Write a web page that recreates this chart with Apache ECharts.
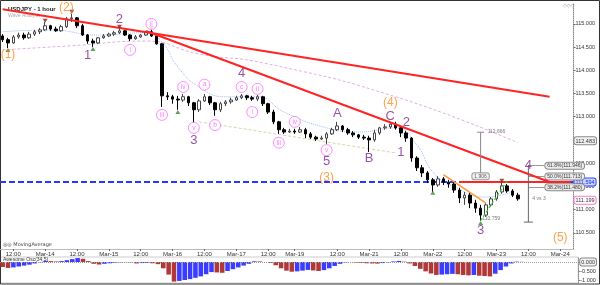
<!DOCTYPE html>
<html>
<head>
<meta charset="utf-8">
<script src="https://cdn.jsdelivr.net/npm/echarts@6/dist/echarts.min.js"></script>
<style>
html,body{margin:0;padding:0;background:#fff;}
#chart{width:600px;height:285px;}
</style>
</head>
<body>
<div id="chart"></div>
<script>
// 2-hour slots, slot 0 = Mar-13 morning, weekend gap removed
const slotCount = 108;
const tickIdx = [2, 8, 14, 20, 26, 32, 38, 44, 50, 55, 63, 69, 75, 81, 87, 93, 99, 105];
const tickText = ['12:00','Mar-14','12:00','Mar-15','12:00','Mar-16','12:00','Mar-17','12:00','Mar-19','12:00','Mar-21','12:00','Mar-22','12:00','Mar-23','12:00','Mar-24'];
const priceTicks = [110.5, 111, 111.5, 112, 112.5, 113, 113.5, 114, 114.5, 115];
const boxValues = [112.483, 111.594, 111.199, 111.130];
const aoTicks = [0, -0.5, -1.0];

// [open, close, low, high]
const candles = [
[114.74,114.66,114.61,114.78],[114.66,114.59,114.48,114.70],[114.59,114.72,114.57,114.76],[114.72,114.76,114.68,114.81],
[114.76,114.70,114.66,114.81],[114.70,114.78,114.68,114.83],[114.78,114.83,114.74,114.87],[114.83,114.87,114.78,114.91],
[114.87,114.96,114.85,115.04],[114.96,114.89,114.85,114.98],[114.89,114.85,114.83,114.94],[114.85,114.94,114.83,114.98],
[114.94,115.11,114.91,115.15],[115.11,115.13,115.04,115.22],[115.13,114.96,114.91,115.15],[114.96,114.76,114.74,115.00],
[114.76,114.63,114.57,114.78],[114.63,114.59,114.50,114.68],[114.59,114.70,114.57,114.72],[114.70,114.74,114.68,114.78],
[114.74,114.78,114.72,114.81],[114.78,114.81,114.74,114.85],[114.81,114.85,114.78,114.89],[114.85,114.76,114.74,114.87],
[114.76,114.68,114.63,114.78],[114.68,114.72,114.66,114.76],[114.72,114.76,114.70,114.78],[114.76,114.83,114.74,114.85],
[114.83,114.74,114.72,114.87],[114.74,114.57,114.55,114.76],[114.57,113.45,113.21,114.59],[113.45,113.43,113.36,113.53],
[113.43,113.38,113.28,113.47],[113.38,113.36,113.15,113.45],[113.36,113.43,113.32,113.49],[113.43,113.30,113.23,113.45],
[113.30,113.15,112.87,113.32],[113.15,113.34,113.10,113.38],[113.34,113.43,113.32,113.49],[113.43,113.30,113.25,113.45],
[113.30,113.15,113.02,113.32],[113.15,113.28,113.10,113.32],[113.28,113.32,113.23,113.36],[113.32,113.36,113.28,113.41],
[113.36,113.41,113.34,113.45],[113.41,113.45,113.38,113.49],[113.45,113.41,113.36,113.47],[113.41,113.38,113.34,113.45],
[113.38,113.43,113.34,113.47],[113.43,113.28,113.23,113.45],[113.28,113.10,113.06,113.30],[113.10,112.89,112.84,113.15],
[112.89,112.72,112.63,112.91],[112.72,112.67,112.63,112.76],[112.67,112.69,112.65,112.74],[112.69,112.67,112.63,112.74],
[112.67,112.72,112.65,112.78],[112.72,112.63,112.54,112.76],[112.63,112.56,112.52,112.67],[112.56,112.52,112.48,112.59],
[112.52,112.54,112.50,112.59],[112.54,112.63,112.41,112.67],[112.63,112.72,112.61,112.76],[112.72,112.80,112.69,112.89],
[112.80,112.72,112.67,112.82],[112.72,112.65,112.61,112.76],[112.65,112.61,112.56,112.69],[112.61,112.56,112.52,112.63],
[112.56,112.54,112.50,112.61],[112.54,112.50,112.24,112.59],[112.50,112.65,112.46,112.72],[112.65,112.76,112.61,112.78],
[112.76,112.78,112.72,112.84],[112.78,112.84,112.74,112.89],[112.84,112.76,112.72,112.89],[112.76,112.65,112.56,112.80],
[112.65,112.54,112.46,112.69],[112.54,112.11,112.03,112.56],[112.11,111.90,111.83,112.15],[111.90,111.79,111.70,111.96],
[111.79,111.64,111.57,111.83],[111.64,111.53,111.38,111.68],[111.53,111.66,111.49,111.72],[111.66,111.59,111.53,111.70],
[111.59,111.55,111.47,111.64],[111.55,111.42,111.36,111.59],[111.42,111.25,111.14,111.47],[111.25,111.31,111.10,111.38],
[111.31,111.14,111.03,111.36],[111.14,111.03,110.93,111.21],[111.03,110.88,110.76,111.10],[110.88,111.10,110.84,111.14],
[111.10,111.23,111.06,111.27],[111.23,111.38,111.19,111.42],[111.38,111.51,111.34,111.59],[111.51,111.40,111.36,111.55],
[111.40,111.31,111.27,111.44],[111.31,111.23,111.19,111.36]
];

// Awesome Oscillator (34,5)
const aoValues = [
-0.28,-0.33,-0.30,-0.25,-0.20,-0.15,-0.08,-0.02,0.06,0.05,
0.03,0.05,0.10,0.16,0.22,0.18,0.05,-0.10,-0.14,-0.10,
-0.07,-0.04,-0.02,-0.01,-0.02,-0.08,-0.06,-0.05,-0.07,-0.12,
-0.35,-0.70,-1.09,-1.05,-1.00,-0.95,-0.88,-0.80,-0.68,-0.56,
-0.58,-0.60,-0.50,-0.40,-0.30,-0.20,-0.10,0.04,0.03,0.00,
-0.05,-0.18,-0.35,-0.48,-0.54,-0.52,-0.48,-0.44,-0.47,-0.50,
-0.45,-0.35,-0.22,-0.10,-0.02,0.00,-0.03,-0.05,-0.07,-0.08,
-0.09,-0.06,-0.02,0.03,0.06,0.02,-0.08,-0.22,-0.38,-0.52,
-0.64,-0.72,-0.70,-0.68,-0.66,-0.68,-0.72,-0.74,-0.72,-0.76,
-0.78,-0.80,-0.65,-0.45,-0.25,-0.08,0.02,0.01
];

// moving averages [slot, price]
const fastMA = [[0,114.83],[9,114.87],[18,114.76],[27,114.81],[30,114.61],[33,114.07],[37,113.64],[42,113.43],[48,113.43],[53,113.10],[61,112.76],[67,112.67],[74,112.76],[78,112.39],[81,111.81],[85,111.49],[91,111.27],[96,111.38]];
const slowMA = [[0,114.44],[13,114.53],[27,114.63],[37,114.35],[49,114.16],[74,113.43],[97,112.44]];

// drawn lines
const supportLevel = 111.594;
const trendUpper = [[0,115.314],[103,113.431]];
const trendLower = [[27,114.847],[103,111.594]];
const supportRed = [[86,111.594],[107,111.594]];
const tanLine = [[37,112.89],[74,112.22]];
const orangeLine = [[83,111.75],[91,111.14]];
const greenLine = [[90,110.76],[95,111.62]];
const measure1 = [[90,112.666],[90,111.72]];
const measure2 = [[99,111.96],[99,110.73]];
const fibLevels = [111.946, 111.713, 111.480];
const fibText = ['61.8%(111.946)','50.0%(111.713)','38.2%(111.480)'];

// wave labels [slot, price, text]
const orangeWaves = [[1,114.33,'(1)'],[12,115.34,'(2)'],[61,111.68,'(3)'],[73,113.30,'(4)'],[105,110.39,'(5)']];
const purpleWaves = [[16,114.33,'1'],[22,115.09,'2'],[36,112.48,'3'],[45,113.94,'4'],[61,112.03,'5'],[63,113.08,'A'],[69,112.11,'B'],[73,113.00,'C'],[76,112.87,'2'],[75,112.22,'1'],[90,110.56,'3'],[99,111.96,'4']];
const minorWaves = [[24,114.44,'i'],[28,115.00,'ii'],[30,113.04,'iii'],[34,113.64,'iv'],[36,112.76,'v'],[38,113.69,'a'],[40,112.82,'b'],[45,113.64,'c'],[47,113.10,'i'],[48,113.60,'ii'],[52,112.44,'iii'],[55,112.89,'iv'],[61,112.28,'v']];
const lowMarks = [[1,114.44],[17,114.46],[33,113.10],[81,111.36],[90,110.71]];
const highMarks = [[8,115.07],[13,115.26],[22,114.94],[28,114.91],[94,111.62]];
const noteLabels = [[93,112.67,'112.666'],[92,110.80,'110.759'],[101,111.23,'4 vs 3']];
const boxNotes = [[90,111.72,'1.906']];

const chart = echarts.init(document.getElementById('chart'));
const cats = Array.from({length: slotCount}, (_, i) => String(i));
const tickMap = {};
tickIdx.forEach((k, j) => { tickMap[k] = tickText[j]; });

const boxStyle = {112.483: 'g', 111.594: 'b', 111.199: 'p', 111.130: 'c'};
const boxBase = {fontSize: 5.5, padding: [1, 1, 0, 1], borderWidth: 1, borderRadius: 2, fontFamily: 'Liberation Sans'};

function seg(pts, color, width, type, z) {
    return {type: 'line', xAxisIndex: 0, yAxisIndex: 0, data: pts, symbol: 'none', silent: true,
            lineStyle: {color: color, width: width, type: type}, z: z || 4};
}
function texts(pts, color, size, z) {
    return {type: 'scatter', xAxisIndex: 0, yAxisIndex: 0, data: pts, symbolSize: 1, silent: true,
            itemStyle: {color: 'transparent'}, z: z || 8,
            label: {show: true, position: 'inside', formatter: p => p.value[2], color: color, fontSize: size, fontFamily: 'Liberation Sans'}};
}

var option = {
    animation: false,
    title: {
        text: 'USDJPY - 1 hour', subtext: 'Wave Analysis', left: 3, top: 1, itemGap: 1,
        textStyle: {fontSize: 6, fontWeight: 'bold', color: '#222', fontFamily: 'Liberation Sans'},
        subtextStyle: {fontSize: 5, color: '#aaa', fontFamily: 'Liberation Sans'}
    },
    grid: [
        {left: 0, right: 20, top: 3, height: 246},
        {left: 0, right: 20, top: 257, height: 26, show: true, borderColor: '#ccc', borderWidth: 1}
    ],
    xAxis: [
        {type: 'category', data: cats, gridIndex: 0, boundaryGap: true,
         axisLine: {show: true, lineStyle: {color: '#bbb'}},
         axisTick: {show: true, alignWithLabel: true, interval: i => i in tickMap, length: 2, lineStyle: {color: '#666'}},
         axisLabel: {interval: i => i in tickMap, formatter: (v, i) => tickMap[i] || '', fontSize: 6, color: '#333', margin: 2, fontFamily: 'Liberation Sans'},
         splitLine: {show: false}},
        {type: 'category', data: cats, gridIndex: 1, boundaryGap: true, show: false}
    ],
    yAxis: [
        {type: 'value', gridIndex: 0, position: 'right', min: 110.15, max: 115.45,
         axisLine: {show: true, lineStyle: {color: '#888', type: 'dotted'}},
         axisTick: {show: true, customValues: priceTicks, length: 2, lineStyle: {color: '#666'}},
         axisLabel: {customValues: priceTicks, formatter: v => v.toFixed(3), fontSize: 5.5, color: '#333', margin: 2, fontFamily: 'Liberation Sans'},
         splitLine: {show: false}},
        {type: 'value', gridIndex: 0, position: 'right', min: 110.15, max: 115.45,
         axisLine: {show: false}, axisTick: {show: false}, splitLine: {show: false},
         axisLabel: {customValues: boxValues, margin: 1,
                     formatter: v => '{' + (boxStyle[v] || 'g') + '|' + v.toFixed(3) + '}',
                     rich: {
                         g: Object.assign({}, boxBase, {backgroundColor: '#f2f2f2', borderColor: '#888', color: '#333'}),
                         b: Object.assign({}, boxBase, {backgroundColor: '#c9d6ff', borderColor: '#3344ff', color: '#1a2fd0'}),
                         p: Object.assign({}, boxBase, {backgroundColor: '#fff', borderColor: '#ff77cc', color: '#333'}),
                         c: Object.assign({}, boxBase, {backgroundColor: '#e8ecff', borderColor: '#7788ff', color: '#333'})
                     }}},
        {type: 'value', gridIndex: 1, position: 'right', min: -1.167, max: 0.278,
         axisLine: {show: true, lineStyle: {color: '#888', type: 'dotted'}},
         axisTick: {show: true, customValues: aoTicks, length: 2},
         axisLabel: {customValues: aoTicks, margin: 2, fontSize: 5.5, color: '#333', fontFamily: 'Liberation Sans',
                     formatter: v => v === 0 ? '{z|0.000}' : v.toFixed(3),
                     rich: {z: Object.assign({}, boxBase, {backgroundColor: '#f2f2f2', borderColor: '#888', color: '#333'})}},
         splitLine: {show: false}}
    ],
    series: [
        {type: 'candlestick', xAxisIndex: 0, yAxisIndex: 0, data: candles, barWidth: 3, z: 5,
         itemStyle: {color: '#fff', color0: '#000', borderColor: '#444', borderColor0: '#000', borderWidth: 1}},
        Object.assign(seg(fastMA, '#9db8f5', 1, 'dotted', 3), {smooth: true}),
        Object.assign(seg(slowMA, '#e2aee2', 1, [3, 2], 3), {smooth: true}),
        seg(tanLine, '#d9d2a8', 1, [3, 2], 3),
        seg(trendUpper, '#ff2424', 2, 'solid', 6),
        seg(trendLower, '#ff2424', 2, 'solid', 6),
        Object.assign(seg(supportRed, '#ff2424', 2, 'solid', 6), {
            markLine: {symbol: 'none', silent: true, label: {show: false},
                       lineStyle: {color: '#2b35ff', width: 2, type: [6, 3]},
                       data: [{yAxis: supportLevel}]}
        }),
        seg(orangeLine, '#ff9a30', 1.5, 'solid', 6),
        seg(greenLine, '#33cc33', 1.2, [3, 2], 6),
        {type: 'line', xAxisIndex: 0, yAxisIndex: 0, silent: true, z: 6,
         data: [{value: measure1[0], symbol: 'rect', symbolSize: [7, 1]}, {value: measure1[1], symbol: 'none'}],
         showAllSymbol: true, itemStyle: {color: '#888'}, lineStyle: {color: '#888', width: 1}},
        {type: 'line', xAxisIndex: 0, yAxisIndex: 0, silent: true, z: 6,
         data: [{value: measure2[0], symbol: 'none'}, {value: measure2[1], symbol: 'rect', symbolSize: [9, 1]}],
         showAllSymbol: true, itemStyle: {color: '#666'}, lineStyle: {color: '#666', width: 1},
         markLine: {symbol: 'none', silent: true, lineStyle: {color: '#999', width: 1, type: 'solid'},
                    data: fibLevels.map((lv, j) => [
                        {coord: [99, lv]},
                        {coord: [102, lv], label: {show: true, position: 'end', distance: 1, formatter: fibText[j],
                         fontSize: 5, color: '#333', backgroundColor: '#ececec', borderColor: '#888', borderWidth: 1,
                         borderRadius: 3, padding: [1, 2, 0, 2], fontFamily: 'Liberation Sans'}}
                    ])}},
        texts(orangeWaves, '#ff8a1c', 12),
        texts(purpleWaves, '#7a2790', 13),
        {type: 'scatter', xAxisIndex: 0, yAxisIndex: 0, data: minorWaves, symbol: 'circle', symbolSize: 11, silent: true, z: 8,
         itemStyle: {color: '#fff', borderColor: '#ff6cff', borderWidth: 1},
         label: {show: true, position: 'inside', formatter: p => p.value[2], color: '#ff55ff', fontSize: 6.5, fontFamily: 'Liberation Sans'}},
        {type: 'scatter', xAxisIndex: 0, yAxisIndex: 0, data: lowMarks, symbol: 'triangle', symbolSize: [5, 4], silent: true, z: 7,
         itemStyle: {color: '#2f8a2f'}},
        {type: 'scatter', xAxisIndex: 0, yAxisIndex: 0, data: highMarks, symbol: 'triangle', symbolRotate: 180, symbolSize: [5, 4], silent: true, z: 7,
         itemStyle: {color: '#8a1f1f'}},
        texts(noteLabels, '#555', 5),
        {type: 'scatter', xAxisIndex: 0, yAxisIndex: 0, data: boxNotes, symbolSize: 1, silent: true, z: 8,
         itemStyle: {color: 'transparent'},
         label: {show: true, position: 'inside', formatter: p => p.value[2], fontSize: 5, color: '#333', backgroundColor: '#f4f4f4',
                 borderColor: '#888', borderWidth: 1, borderRadius: 2, padding: [1, 2, 0, 2], fontFamily: 'Liberation Sans'}},
        {type: 'bar', xAxisIndex: 1, yAxisIndex: 2, data: aoValues, barCategoryGap: '15%', silent: true,
         itemStyle: {color: p => (p.dataIndex > 0 && p.value >= aoValues[p.dataIndex - 1]) ? '#3a3cff' : '#b03838'},
         markLine: {symbol: 'none', silent: true, label: {show: false}, lineStyle: {color: '#999', width: 1, type: 'dotted'},
                    data: [{yAxis: 0}]}}
    ],
    graphic: [
        {type: 'text', left: 3, top: 242, style: {text: '\u25CE\u25CE MovingAverage', fontSize: 5, fill: '#444', fontFamily: 'DejaVu Sans'}},
        {type: 'text', left: 3, top: 257, style: {text: 'Awesome Osc(34,5)', fontSize: 5, fill: '#333', fontFamily: 'Liberation Sans'}},
        {type: 'text', left: 563, top: 3, style: {text: '\u25C7\u25C7\u25C7', fontSize: 5, fill: '#999', fontFamily: 'DejaVu Sans'}},
        {type: 'rect', shape: {x: 0.5, y: 0.5, width: 599, height: 283.5}, style: {fill: 'none', stroke: '#333', lineWidth: 1}, silent: true}
    ]
};

chart.setOption(option);
window.addEventListener('resize', () => chart.resize());
</script>
</body>
</html>
